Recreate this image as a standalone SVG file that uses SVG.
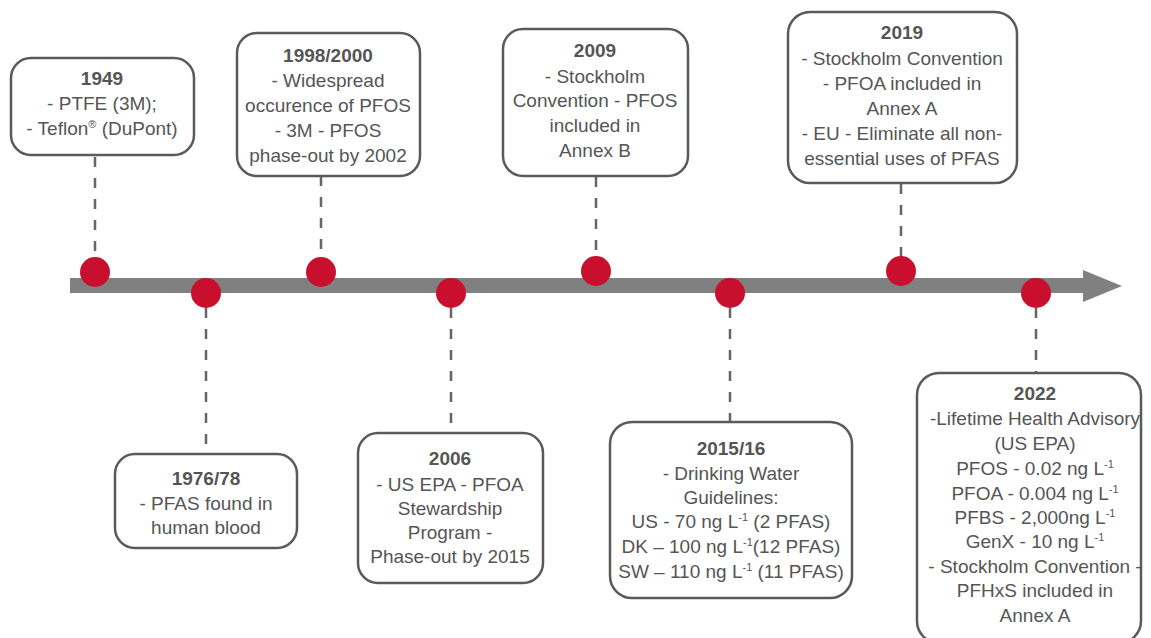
<svg xmlns="http://www.w3.org/2000/svg" width="1151" height="638" viewBox="0 0 1151 638">
<style>
.box{fill:#fff;stroke:#5a5a5a;stroke-width:2.5}
.t{font-family:"Liberation Sans",Arial,sans-serif;font-size:19px;fill:#555;text-anchor:middle}
.b{font-weight:bold}
.dash{stroke:#666;stroke-width:2.5;stroke-dasharray:10 11;fill:none}
.dot{fill:#c8102e}
.bar{fill:#808080}
</style>
<rect width="1151" height="638" fill="#fff"/>
<g id="timeline">
<rect class="bar" x="70" y="278" width="1015" height="15"/>
<polygon class="bar" points="1083,270 1122,286 1083,302"/>
</g>
<g id="connectors">
<line class="dash" x1="95" y1="157" x2="95" y2="257"/>
<line class="dash" x1="206" y1="308" x2="206" y2="454"/>
<line class="dash" x1="321" y1="176" x2="321" y2="257"/>
<line class="dash" x1="451" y1="308" x2="451" y2="433"/>
<line class="dash" x1="596" y1="177" x2="596" y2="257"/>
<line class="dash" x1="730" y1="308" x2="730" y2="422"/>
<line class="dash" x1="901" y1="184" x2="901" y2="257"/>
<line class="dash" x1="1036" y1="308" x2="1036" y2="373"/>
</g>
<g id="dots">
<circle class="dot" cx="95" cy="272" r="15"/>
<circle class="dot" cx="206" cy="293" r="15"/>
<circle class="dot" cx="321" cy="272" r="15"/>
<circle class="dot" cx="451" cy="293" r="15"/>
<circle class="dot" cx="596" cy="271" r="15"/>
<circle class="dot" cx="730" cy="293" r="15"/>
<circle class="dot" cx="901" cy="271" r="15"/>
<circle class="dot" cx="1036" cy="293" r="15"/>
</g>
<g id="n1949">
<rect class="box" x="11" y="58" width="183" height="97" rx="20"/>
<text class="t b" x="102" y="85">1949</text>
<text class="t" x="102" y="110">- PTFE (3M);</text>
<text class="t" x="102" y="135">- Teflon<tspan font-size="11" dy="-7">®</tspan><tspan dy="7"> (DuPont)</tspan></text>
</g>
<g id="n1976">
<rect class="box" x="115" y="454" width="182" height="94" rx="20"/>
<text class="t b" x="206" y="485">1976/78</text>
<text class="t" x="206" y="510">- PFAS found in</text>
<text class="t" x="206" y="534">human blood</text>
</g>
<g id="n1998">
<rect class="box" x="237" y="33" width="183" height="143" rx="20"/>
<text class="t b" x="328" y="62">1998/2000</text>
<text class="t" x="328" y="87">- Widespread</text>
<text class="t" x="328" y="112">occurence of PFOS</text>
<text class="t" x="328" y="137">- 3M - PFOS</text>
<text class="t" x="328" y="162">phase-out by 2002</text>
</g>
<g id="n2006">
<rect class="box" x="358" y="433" width="185" height="150" rx="20"/>
<text class="t b" x="450" y="465">2006</text>
<text class="t" x="450" y="491">- US EPA - PFOA</text>
<text class="t" x="450" y="515">Stewardship</text>
<text class="t" x="450" y="539">Program -</text>
<text class="t" x="450" y="563">Phase-out by 2015</text>
</g>
<g id="n2009">
<rect class="box" x="503" y="29" width="185" height="147" rx="20"/>
<text class="t b" x="595" y="57">2009</text>
<text class="t" x="595" y="83">- Stockholm</text>
<text class="t" x="595" y="107">Convention - PFOS</text>
<text class="t" x="595" y="132">included in</text>
<text class="t" x="595" y="157">Annex B</text>
</g>
<g id="n2015">
<rect class="box" x="610" y="422" width="242" height="176" rx="22"/>
<text class="t b" x="731" y="455">2015/16</text>
<text class="t" x="731" y="480">- Drinking Water</text>
<text class="t" x="731" y="504">Guidelines:</text>
<text class="t" x="731" y="528">US - 70 ng L<tspan font-size="11" dy="-7">-1</tspan><tspan dy="7"> (2 PFAS)</tspan></text>
<text class="t" x="731" y="553">DK – 100 ng L<tspan font-size="11" dy="-7">-1</tspan><tspan dy="7">(12 PFAS)</tspan></text>
<text class="t" x="731" y="578">SW – 110 ng L<tspan font-size="11" dy="-7">-1</tspan><tspan dy="7"> (11 PFAS)</tspan></text>
</g>
<g id="n2019">
<rect class="box" x="788" y="12" width="229" height="171" rx="22"/>
<text class="t b" x="902" y="39">2019</text>
<text class="t" x="902" y="65">- Stockholm Convention</text>
<text class="t" x="902" y="90">- PFOA included in</text>
<text class="t" x="902" y="115">Annex A</text>
<text class="t" x="902" y="140">- EU - Eliminate all non-</text>
<text class="t" x="902" y="165">essential uses of PFAS</text>
</g>
<g id="n2022">
<rect class="box" x="917" y="373" width="224" height="270" rx="22"/>
<text class="t b" x="1035" y="400">2022</text>
<text class="t" x="1035" y="425">-Lifetime Health Advisory</text>
<text class="t" x="1035" y="450">(US EPA)</text>
<text class="t" x="1035" y="475">PFOS - 0.02 ng L<tspan font-size="11" dy="-7">-1</tspan></text>
<text class="t" x="1035" y="500">PFOA - 0.004 ng L<tspan font-size="11" dy="-7">-1</tspan></text>
<text class="t" x="1035" y="524">PFBS - 2,000ng L<tspan font-size="11" dy="-7">-1</tspan></text>
<text class="t" x="1035" y="548">GenX - 10 ng L<tspan font-size="11" dy="-7">-1</tspan></text>
<text class="t" x="1035" y="573">- Stockholm Convention -</text>
<text class="t" x="1035" y="597">PFHxS included in</text>
<text class="t" x="1035" y="622">Annex A</text>
</g>
</svg>
